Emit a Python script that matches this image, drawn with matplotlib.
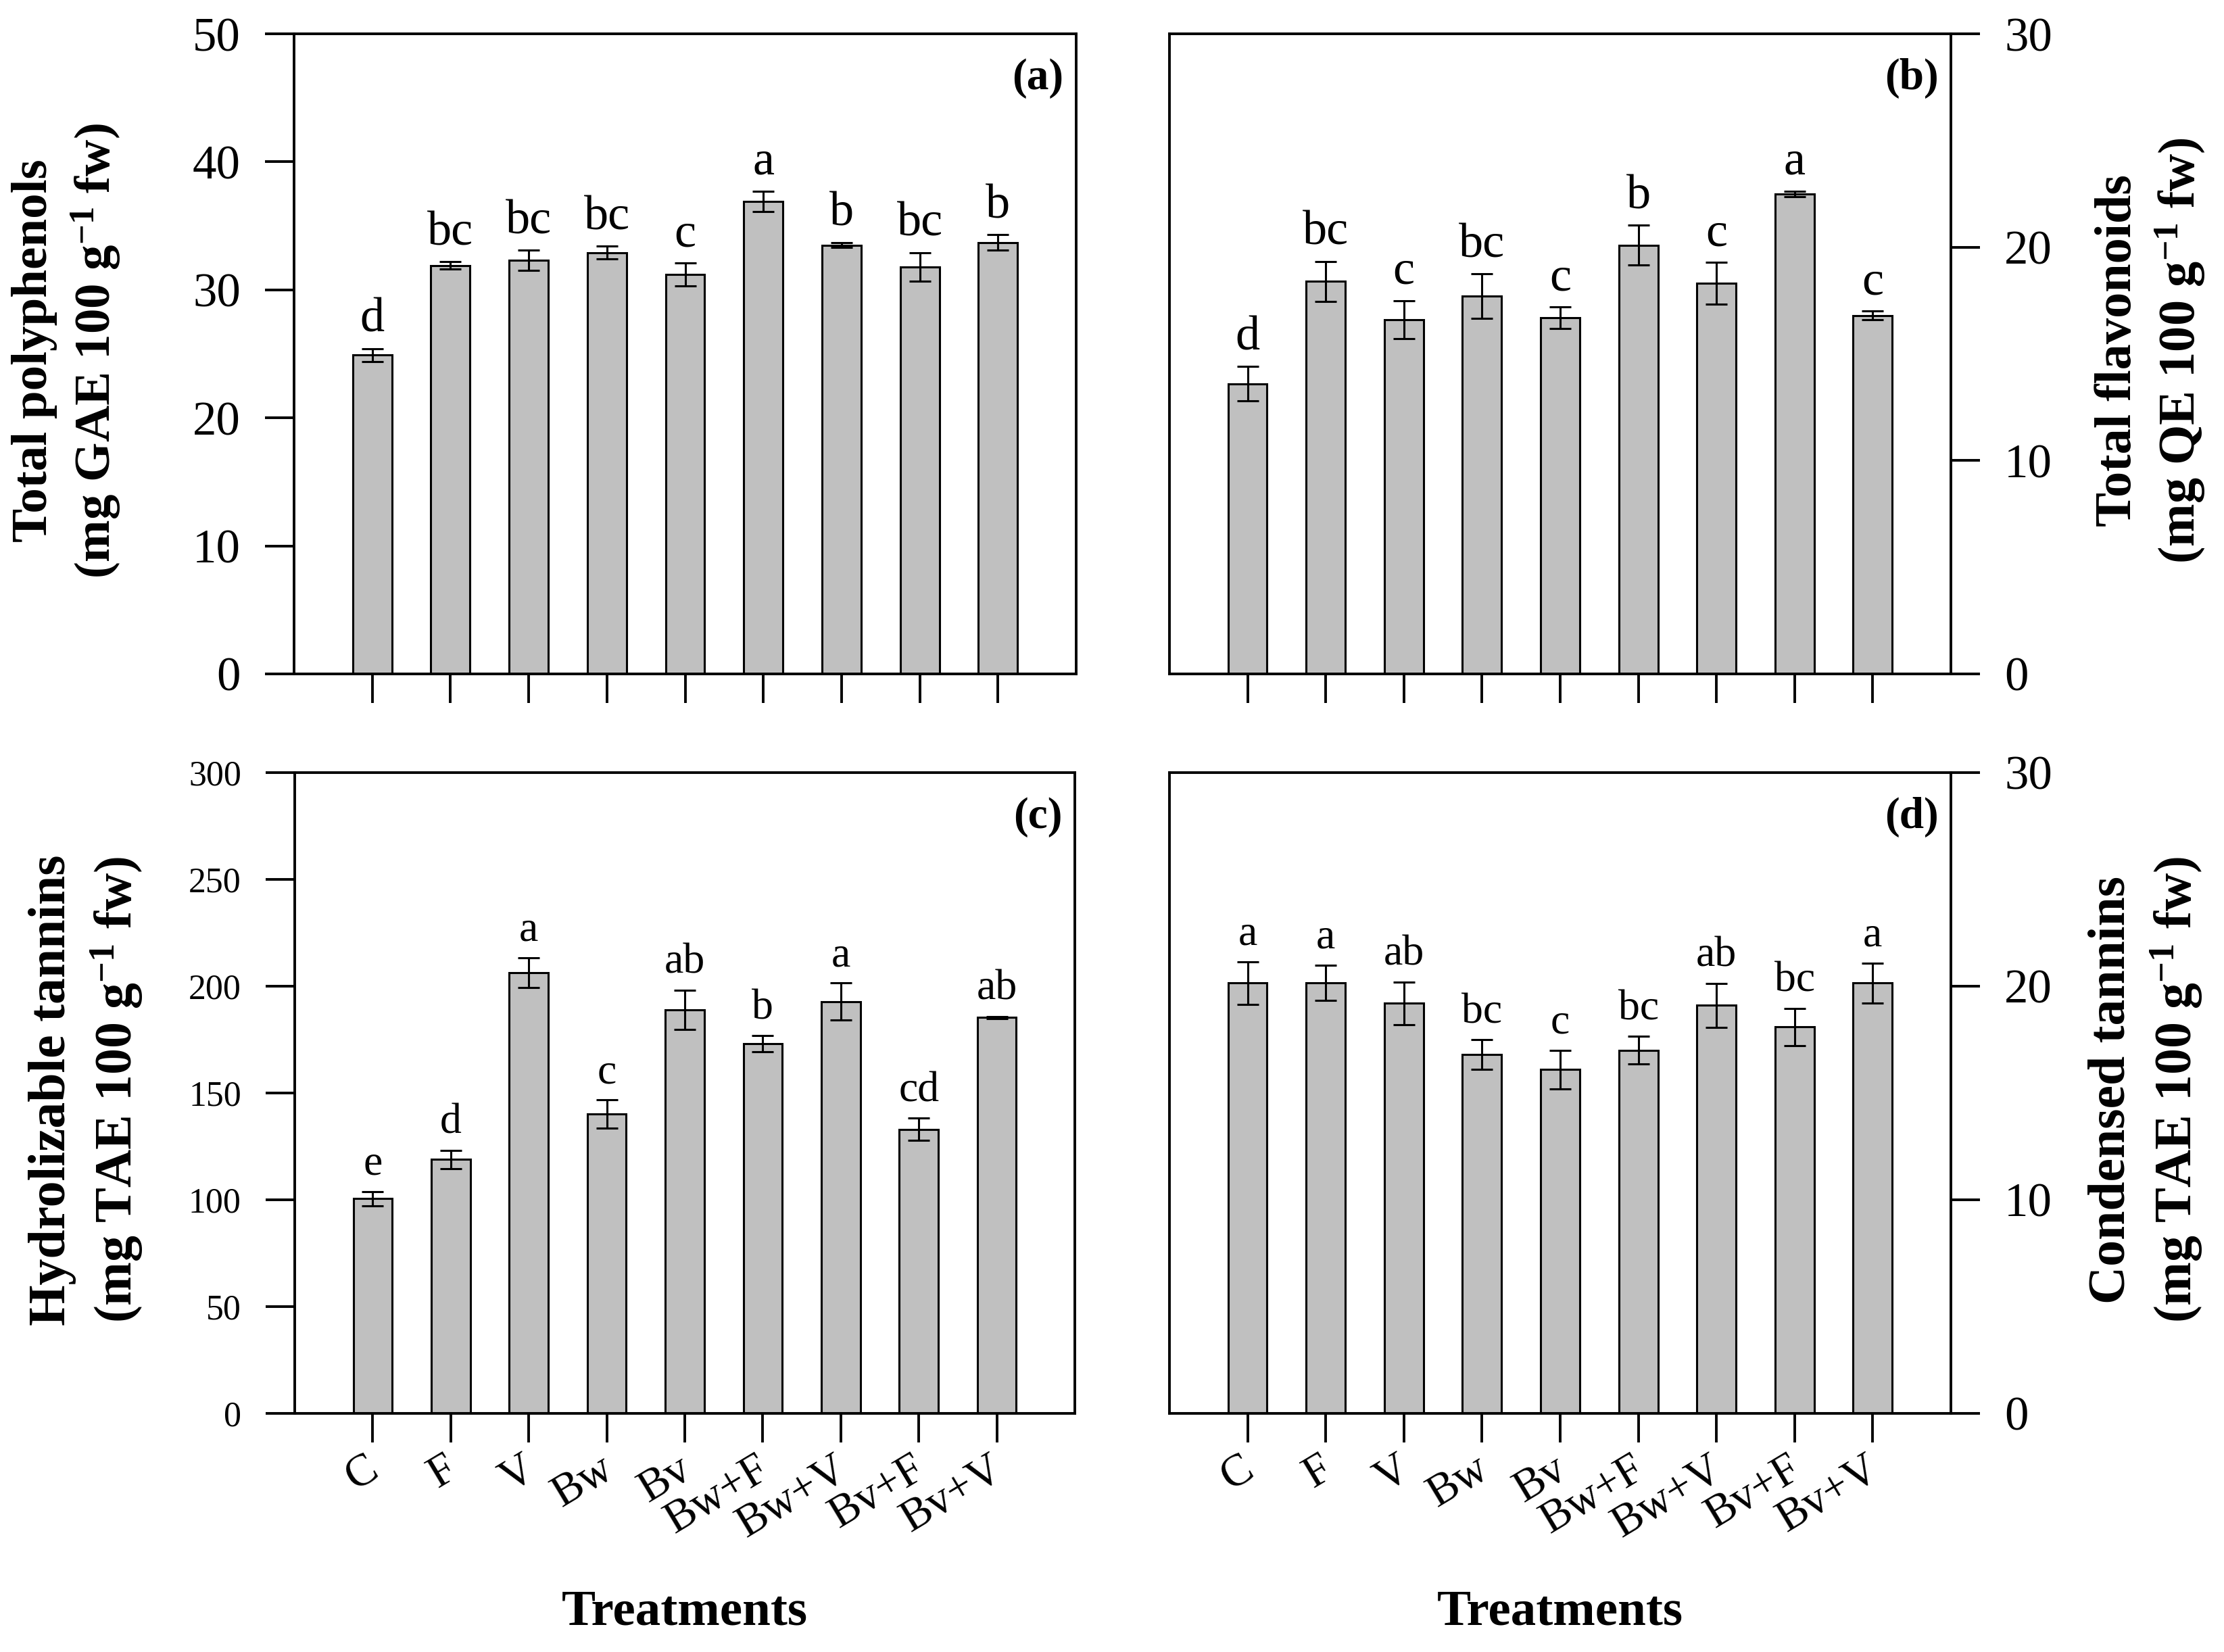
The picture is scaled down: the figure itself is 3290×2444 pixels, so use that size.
import matplotlib
matplotlib.use('Agg')
import matplotlib.pyplot as plt
import matplotlib.transforms as mtransforms
import numpy as np

plt.rcParams['font.family'] = ['Liberation Serif', 'DejaVu Serif']
plt.rcParams['mathtext.fontset'] = 'custom'
plt.rcParams['mathtext.rm'] = 'Liberation Serif'
plt.rcParams['mathtext.it'] = 'Liberation Serif:italic'
plt.rcParams['mathtext.bf'] = 'Liberation Serif:bold'
plt.rcParams['mathtext.default'] = 'regular'

# ---------------- data ----------------
treatments = ['C', 'F', 'V', 'Bw', 'Bv', 'Bw+F', 'Bw+V', 'Bv+F', 'Bv+V']

polyphenols = [24.9, 31.9, 32.3, 32.9, 31.2, 36.9, 33.5, 31.8, 33.7]
polyphenols_err = [0.5, 0.3, 0.8, 0.5, 0.9, 0.8, 0.2, 1.1, 0.6]
polyphenols_letters = ['d', 'bc', 'bc', 'bc', 'c', 'a', 'b', 'bc', 'b']

flavonoids = [13.6, 18.4, 16.6, 17.7, 16.7, 20.1, 18.3, 22.5, 16.8]
flavonoids_err = [0.8, 0.93, 0.9, 1.05, 0.5, 0.92, 0.98, 0.13, 0.2]
flavonoids_letters = ['d', 'bc', 'c', 'bc', 'c', 'b', 'c', 'a', 'c']

hydrolizable = [100.5, 118.9, 206.4, 140.1, 189.0, 173.0, 192.8, 133.0, 185.4]
hydrolizable_err = [3.3, 4.3, 7.0, 6.6, 9.2, 3.8, 8.7, 5.2, 0.5]
hydrolizable_letters = ['e', 'd', 'a', 'c', 'ab', 'b', 'a', 'cd', 'ab']

condensed = [20.15, 20.17, 19.2, 16.8, 16.1, 17.0, 19.1, 18.1, 20.15]
condensed_err = [1.0, 0.82, 1.0, 0.7, 0.9, 0.65, 1.03, 0.87, 0.94]
condensed_letters = ['a', 'a', 'ab', 'bc', 'c', 'bc', 'ab', 'bc', 'a']

# ---------------- figure ----------------
W, H = 3291, 2444
DPI = 200
fig = plt.figure(figsize=(W / DPI, H / DPI), dpi=DPI)


def axes_px(left, top, right, bottom):
    return fig.add_axes([left / W, 1 - bottom / H, (right - left) / W, (bottom - top) / H])


ax_a = axes_px(435, 50, 1592, 997)
ax_b = axes_px(1730, 50, 2886, 997)
ax_c = axes_px(436, 1143, 1590, 2091)
ax_d = axes_px(1730, 1143, 2886, 2091)

x = np.arange(1, len(treatments) + 1)
shift = mtransforms.ScaledTranslation(-12 / DPI, 0, fig.dpi_scale_trans)


def panel(ax, vals, errs, letters, ymax, ystep, ylabel, tag, side,
          tick_fs, letter_fs, label_fs, label_x, show_xlabels):
    ax.bar(x, vals, width=0.5, color='#c0c0c0', edgecolor='black',
           linewidth=1.1, zorder=2)
    ax.errorbar(x, vals, yerr=errs, fmt='none', ecolor='black',
                elinewidth=1.1, capsize=5.8, capthick=1.1, zorder=3)
    for xi, v, e, l in zip(x, vals, errs, letters):
        ax.annotate(l, (xi, v + e), xytext=(0, 9), textcoords='offset points',
                    ha='center', va='baseline', fontsize=letter_fs)
    ax.set_xlim(0, 10)
    ax.set_ylim(0, ymax)
    ax.set_yticks(np.arange(0, ymax + ystep / 2, ystep))
    ax.set_xticks(x)
    for s in ax.spines.values():
        s.set_linewidth(1.4)
    ax.tick_params(axis='both', direction='out', length=15.5, width=1.4)
    ax.tick_params(axis='y', labelsize=tick_fs, pad=13)
    ax.tick_params(axis='x', pad=3)
    if side == 'right':
        ax.yaxis.tick_right()
    if show_xlabels:
        ax.set_xticklabels(treatments, rotation=31, ha='right', va='top',
                           rotation_mode='anchor', fontsize=24)
        for lab in ax.get_xticklabels():
            lab.set_transform(lab.get_transform() + shift)
        ax.text(0.5, -0.311, 'Treatments', transform=ax.transAxes,
                ha='center', va='center', fontsize=27, fontweight='bold')
    else:
        ax.set_xticklabels([])
    ax.text(0.984, 0.93, tag, transform=ax.transAxes, ha='right',
            va='center', fontsize=23.5, fontweight='bold')
    ax.text(label_x, 0.505, ylabel, transform=ax.transAxes, rotation=90,
            ha='center', va='center', fontsize=label_fs, fontweight='bold',
            linespacing=1.3, multialignment='center')


panel(ax_a, polyphenols, polyphenols_err, polyphenols_letters, 50, 10,
      'Total polyphenols\n(mg GAE 100 g$^{-1}$ fw)', '(a)', 'left',
      25.5, 26, 27, -0.29, False)
panel(ax_b, flavonoids, flavonoids_err, flavonoids_letters, 30, 10,
      'Total flavonoids\n(mg QE 100 g$^{-1}$ fw)', '(b)', 'right',
      25.5, 26, 27.5, 1.256, False)
panel(ax_c, hydrolizable, hydrolizable_err, hydrolizable_letters, 300, 50,
      'Hydrolizable tannins\n(mg TAE 100 g$^{-1}$ fw)', '(c)', 'left',
      18.7, 23, 28, -0.267, True)
panel(ax_d, condensed, condensed_err, condensed_letters, 30, 10,
      'Condensed tannins\n(mg TAE 100 g$^{-1}$ fw)', '(d)', 'right',
      25.5, 23, 28, 1.25, True)

fig.savefig('out.png', dpi=DPI, facecolor='white')
